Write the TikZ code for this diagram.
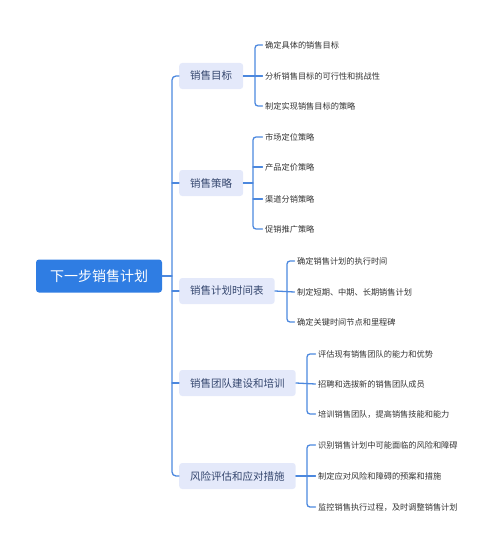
\documentclass[tikz,border=0pt]{standalone}
\usepackage{fontspec}
\newfontfamily\cjk{Noto Sans CJK SC}
\definecolor{linkblue}{HTML}{4C88DE}
\definecolor{rootblue}{HTML}{2F7DE3}
\definecolor{topicfill}{HTML}{E4E9FA}
\definecolor{topictext}{HTML}{34466E}
\definecolor{leaftext}{HTML}{333333}
\tikzset{
  root/.style={fill=rootblue,text=white,rounded corners=3pt,minimum height=33pt,inner xsep=14pt,font=\cjk\fontsize{14}{14}\selectfont},
  topic/.style={fill=topicfill,text=topictext,rounded corners=3pt,minimum height=26pt,inner xsep=11pt,anchor=west,font=\cjk\fontsize{10.5}{10.5}\selectfont},
  leaf/.style={text=leaftext,anchor=west,inner xsep=2.5pt,font=\cjk\fontsize{8.2}{8.2}\selectfont},
  link/.style={draw=linkblue,line width=1.3pt}
}
\begin{document}
\begin{tikzpicture}[x=1pt,y=-1pt,line join=round,line cap=round]
\useasboundingbox (0,0) rectangle (500,551);
% root and first level
\node[root] (r) at (99,276) {下一步销售计划};
\node[topic] (t1) at (179,76) {销售目标};
\node[topic] (t2) at (179,183) {销售策略};
\node[topic] (t3) at (179,291) {销售计划时间表};
\node[topic] (t4) at (179,383) {销售团队建设和培训};
\node[topic] (t5) at (179,476) {风险评估和应对措施};
\coordinate (trunk) at (172,276);
\draw[link,rounded corners=4pt] (t1.west) -- (t1.west -| trunk) -- (t5.west -| trunk) -- (t5.west);
\draw[link] (r.east) -- (trunk);
\foreach \n in {2,3,4} \draw[link] (t\n.west -| trunk) -- (t\n.west);
% leaves
\foreach \t/\y [count=\i] in {确定具体的销售目标/45,分析销售目标的可行性和挑战性/76,制定实现销售目标的策略/106}
  \node[leaf] (a\i) at (262.5,\y) {\t};
\foreach \t/\y [count=\i] in {市场定位策略/137,产品定价策略/167,渠道分销策略/199,促销推广策略/229}
  \node[leaf] (b\i) at (262.5,\y) {\t};
\foreach \t/\y [count=\i] in {确定销售计划的执行时间/261,制定短期、中期、长期销售计划/292,确定关键时间节点和里程碑/322}
  \node[leaf] (c\i) at (294.5,\y) {\t};
\foreach \t/\y [count=\i] in {评估现有销售团队的能力和优势/354,招聘和选拔新的销售团队成员/384,培训销售团队，提高销售技能和能力/414}
  \node[leaf] (d\i) at (315.5,\y) {\t};
\foreach \t/\y [count=\i] in {识别销售计划中可能面临的风险和障碍/445,制定应对风险和障碍的预案和措施/476,监控销售执行过程，及时调整销售计划/507}
  \node[leaf] (e\i) at (315.5,\y) {\t};
% brackets
\coordinate (k1) at (255,76);
\coordinate (k2) at (253,183);
\coordinate (k3) at (287,291);
\coordinate (k4) at (307,383);
\coordinate (k5) at (307,476);
\draw[link,rounded corners=3pt] (a1.west) -- (a1.west -| k1) -- (a3.west -| k1) -- (a3.west);
\draw[link] (t1.east) -- (a2.west);
\draw[link,rounded corners=3pt] (b1.west) -- (b1.west -| k2) -- (b4.west -| k2) -- (b4.west);
\draw[link] (t2.east) -- (k2);
\foreach \n in {2,3} \draw[link] (b\n.west -| k2) -- (b\n.west);
\draw[link,rounded corners=3pt] (c1.west) -- (c1.west -| k3) -- (c3.west -| k3) -- (c3.west);
\draw[link] (t3.east) -- (c2.west);
\draw[link,rounded corners=3pt] (d1.west) -- (d1.west -| k4) -- (d3.west -| k4) -- (d3.west);
\draw[link] (t4.east) -- (d2.west);
\draw[link,rounded corners=3pt] (e1.west) -- (e1.west -| k5) -- (e3.west -| k5) -- (e3.west);
\draw[link] (t5.east) -- (e2.west);
\end{tikzpicture}
\end{document}
